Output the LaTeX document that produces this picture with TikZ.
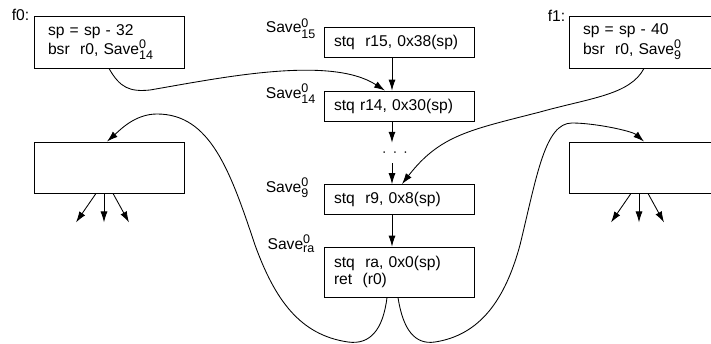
\documentclass[tikz,border=0pt]{standalone}
\usepackage{fontspec}
\setmainfont{Liberation Sans}
\usetikzlibrary{arrows.meta,calc,positioning}
\newlength{\unitpx}
\setlength{\unitpx}{0.64pt}
\newcommand{\Save}[1]{Save$^{\mbox{\footnotesize 0}}_{\mbox{\footnotesize #1}}$}
\tikzset{%
	codebox/.style  = {draw, rectangle, line width=0.55pt, inner xsep=10\unitpx, inner ysep=0pt, text width=130\unitpx, align=left, font=\fontsize{10}{11}\selectfont},
	srcbox/.style   = {codebox, inner xsep=14\unitpx, text width=122\unitpx, minimum height=52\unitpx},
	stepbox/.style  = {codebox, minimum height=30\unitpx},
	emptybox/.style = {codebox, minimum height=51\unitpx},
	savelab/.style  = {anchor=base east, inner sep=1pt, font=\fontsize{10}{11}\selectfont},
	funlab/.style   = {anchor=east, inner sep=1pt, font=\fontsize{10}{11}\selectfont},
	arrow/.style    = {line width=0.55pt, -{Latex[length=7pt,width=4.5pt]}},
}

\begin{document}
\begin{tikzpicture}[x=0.64pt,y=-0.64pt]
	\useasboundingbox (0,0) rectangle (711,343);
	\clip (0,0) rectangle (711,343);
	% callers
	\node[srcbox] (f0) at (109,42) {sp = sp - 32\\bsr~~r0, \Save{14}};
	\node[funlab] (f0lab) at (31,15) {f0:};
	\node[srcbox] (f1) at (644,42) {sp = sp - 40\\bsr~~r0, \Save{9}};
	\node[funlab] (f1lab) at (567,16) {f1:};
	\node[emptybox] (lbox) at (109,167.5) {};
	\node[emptybox] (rbox) at (644,167.5) {};
	
	% save chain
	\node[stepbox] (r15) at (399,42) {stq~~r15, 0x38(sp)};
	\node[stepbox] (r14) at (399,106) {stq r14, 0x30(sp)};
	\node[inner sep=0pt, minimum height=20\unitpx] (dots) at (395,153) {$\cdot$\hspace{4pt}$\cdot$\hspace{4pt}$\cdot$};
	\node[stepbox] (r9) at (399,199.5) {stq~~r9, 0x8(sp)};
	\node[codebox, minimum height=50\unitpx] (ra) at (399,272) {stq~~ra, 0x0(sp)\\ret~~(r0)};
	\node[savelab] (s15) at (318,33) {\Save{15}};
	\node[savelab] (s14) at (318,98) {\Save{14}};
	\node[savelab] (s9) at (311,192) {\Save{9}};
	\node[savelab] (sra) at (317,249) {\Save{ra}};
	
	\draw[arrow] ([xshift=-7\unitpx]r15.south) -- ([xshift=-7\unitpx]r14.north);
	\draw[arrow] ([xshift=-7\unitpx]r14.south) -- ([xshift=-3\unitpx]dots.north);
	\draw[arrow] ([xshift=-3\unitpx]dots.south) -- ([xshift=-7\unitpx]r9.north);
	\draw[arrow] ([xshift=-7\unitpx]r9.south) -- ([xshift=-7\unitpx]ra.north);
	
	% calls and returns
	\draw[arrow] (f0.south) .. controls (120,88) and (130,92) .. (150,90) .. controls (220,78) and (330,55) .. ([xshift=-14\unitpx]r14.north);
	\draw[arrow] (f1.south) .. controls (630,95) and (590,98) .. (540,112) .. controls (470,130) and (440,135) .. ([xshift=3\unitpx]r9.north);
	\draw[arrow] ([xshift=-12\unitpx]ra.south) .. controls (383,330) and (370,345) .. (348,342) .. controls (300,335) and (275,300) .. (255,245) .. controls (230,170) and (210,114) .. (157,114) .. controls (135,114) and (120,130) .. ([xshift=-2\unitpx]lbox.north);
	\draw[arrow] ([xshift=-1\unitpx]ra.south) .. controls (403,330) and (415,345) .. (435,342) .. controls (480,335) and (505,300) .. (520,245) .. controls (537,175) and (545,123) .. (572,123) .. controls (595,123) and (632,131) .. (rbox.north);
	
	\foreach \b in {lbox,rbox}
		\foreach \sx/\ex in {-13/-20,-5/0,4/16}
			\draw[arrow] ([xshift=\sx\unitpx]\b.south) -- ++(\ex,29);
\end{tikzpicture}
\end{document}
